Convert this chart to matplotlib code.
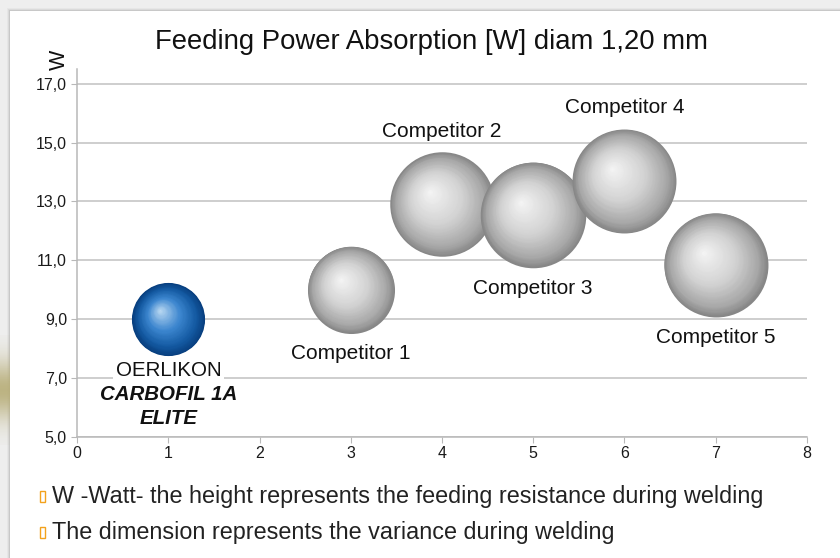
import matplotlib
matplotlib.use("Agg")
import matplotlib.pyplot as plt
import matplotlib.transforms as mtransforms
from matplotlib.patches import Rectangle
from matplotlib.colors import LinearSegmentedColormap
import numpy as np

plt.rcParams['font.family'] = ['Liberation Sans', 'DejaVu Sans']

# ---- data ----
names = ['OERLIKON', 'Competitor 1', 'Competitor 2', 'Competitor 3', 'Competitor 4', 'Competitor 5']
x_pos = [1, 3, 4, 5, 6, 7]
watt = [9.0, 10.0, 12.9, 12.55, 13.7, 10.85]
variance = [0.48, 0.68, 0.98, 1.0, 0.97, 0.97]
y_ticks = [5, 7, 9, 11, 13, 15, 17]
x_ticks = [0, 1, 2, 3, 4, 5, 6, 7, 8]
title = 'Feeding Power Absorption [W] diam 1,20 mm'
notes = ['W -Watt- the height represents the feeding resistance during welding',
         'The dimension represents the variance during welding']

W, H = 840, 558
fig = plt.figure(figsize=(W / 100, H / 100), dpi=100)
fig.patch.set_facecolor('#eeeeee')

# white page panel with a soft shadow
for k, a in enumerate([0.03, 0.05, 0.08]):
    d = 3 - k
    fig.patches.append(Rectangle(((10 - d) / W, 0), 1, (H - 11 + d) / H, transform=fig.transFigure,
                                 facecolor='black', alpha=a, edgecolor='none', zorder=-3))
fig.patches.append(Rectangle((10 / W, 0), 1, (H - 11) / H, transform=fig.transFigure,
                             facecolor='white', edgecolor='none', zorder=-2))

# beige blur on the left edge (photo behind the page)
blur_ax = fig.add_axes([0, (H - 445) / H, 10 / W, 110 / H], zorder=-1)
yy = np.linspace(-1, 1, 60)[:, None]
blur = np.zeros((60, 4, 4))
blur[..., :3] = np.array([0.72, 0.68, 0.47])
blur[..., 3] = np.exp(-(yy / 0.55) ** 2) * 0.9
blur_ax.imshow(blur, aspect='auto')
blur_ax.axis('off')

# ---- main axes ----
ax = fig.add_axes([77.3 / W, 121.3 / H, 729.4 / W, 367.7 / H])
ax.set_xlim(0, 8)
ax.set_ylim(5, 17.5)
ax.set_xticks(x_ticks)
ax.set_yticks(y_ticks)
ax.set_yticklabels([f'{v:.1f}'.replace('.', ',') for v in y_ticks])
ax.grid(axis='y', color='#c6c6c6', linewidth=1.2)
ax.set_axisbelow(True)
for s in ['top', 'right']:
    ax.spines[s].set_visible(False)
for s in ['left', 'bottom']:
    ax.spines[s].set_color('#b8b8b8')
    ax.spines[s].set_linewidth(1.1)
ax.tick_params(color='#b8b8b8', length=4, labelsize=11.5, labelcolor='#1a1a1a')
ax.tick_params(axis='y', pad=3.5)
ax.tick_params(axis='x', pad=3)
ax.patch.set_facecolor('none')

# ---- shaded spheres (layered focal gradient) ----
gray_cmap = LinearSegmentedColormap.from_list(
    'g', [(0, '#878787'), (0.15, '#a8a8a8'), (0.5, '#d3d3d3'), (1, '#f5f5f5')])
blue_cmap = LinearSegmentedColormap.from_list(
    'b', [(0, '#083f7f'), (0.2, '#145aa2'), (0.55, '#3c86cf'), (1, '#bcdaf3')])

R_MAX = 38.0  # points, radius of the largest bubble
n_layers = 60
label_side = [-1, -1, 1, -1, 1, -1]

for i in range(len(names)):
    r = R_MAX * np.sqrt(variance[i])
    cmap = blue_cmap if i == 0 else gray_cmap
    for t in np.linspace(0, 1, n_layers, endpoint=False):
        tr = mtransforms.offset_copy(ax.transData, fig=fig, x=-0.24 * r * t, y=0.24 * r * t, units='points')
        ax.scatter(x_pos[i], watt[i], s=(2 * r * (1 - t)) ** 2, color=cmap(t),
                   linewidths=0, transform=tr, zorder=3 + i, clip_on=False)

    if i == 0:
        ax.annotate('OERLIKON', (x_pos[i], watt[i]), xytext=(0, -(r + 11)), textcoords='offset points',
                    ha='center', va='center', fontsize=14.8, color='#111111', zorder=20,
                    bbox=dict(facecolor='white', edgecolor='none', pad=2))
        ax.annotate('CARBOFIL 1A', (x_pos[i], watt[i]), xytext=(0, -(r + 28.3)), textcoords='offset points',
                    ha='center', va='center', fontsize=14.8, fontweight='bold', fontstyle='italic',
                    color='#111111', zorder=20)
        ax.annotate('ELITE', (x_pos[i], watt[i]), xytext=(0, -(r + 45)), textcoords='offset points',
                    ha='center', va='center', fontsize=14.8, fontweight='bold', fontstyle='italic',
                    color='#111111', zorder=20)
    else:
        ax.annotate(names[i], (x_pos[i], watt[i]), xytext=(0, label_side[i] * (r + 15)),
                    textcoords='offset points', ha='center', va='center', fontsize=15,
                    color='#111111', zorder=20)

# ---- texts ----
fig.text(432 / W, 1 - 42 / H, title, ha='center', va='center', fontsize=19.8, color='#111111')
fig.text(59.5 / W, 1 - 60 / H, 'W', rotation=90, ha='center', va='center', fontsize=15.5, color='#111111')

for k, note in enumerate(notes):
    yc = [496, 532][k]
    fig.patches.append(Rectangle((39.5 / W, 1 - (yc + 6) / H), 5 / W, 11.5 / H, transform=fig.transFigure,
                                 facecolor='none', edgecolor='#f3a21c', linewidth=1.0, zorder=5))
    fig.text(52 / W, 1 - yc / H, note, ha='left', va='center', fontsize=16.8, color='#222222')

fig.savefig('out.png', dpi=100, facecolor=fig.get_facecolor())
